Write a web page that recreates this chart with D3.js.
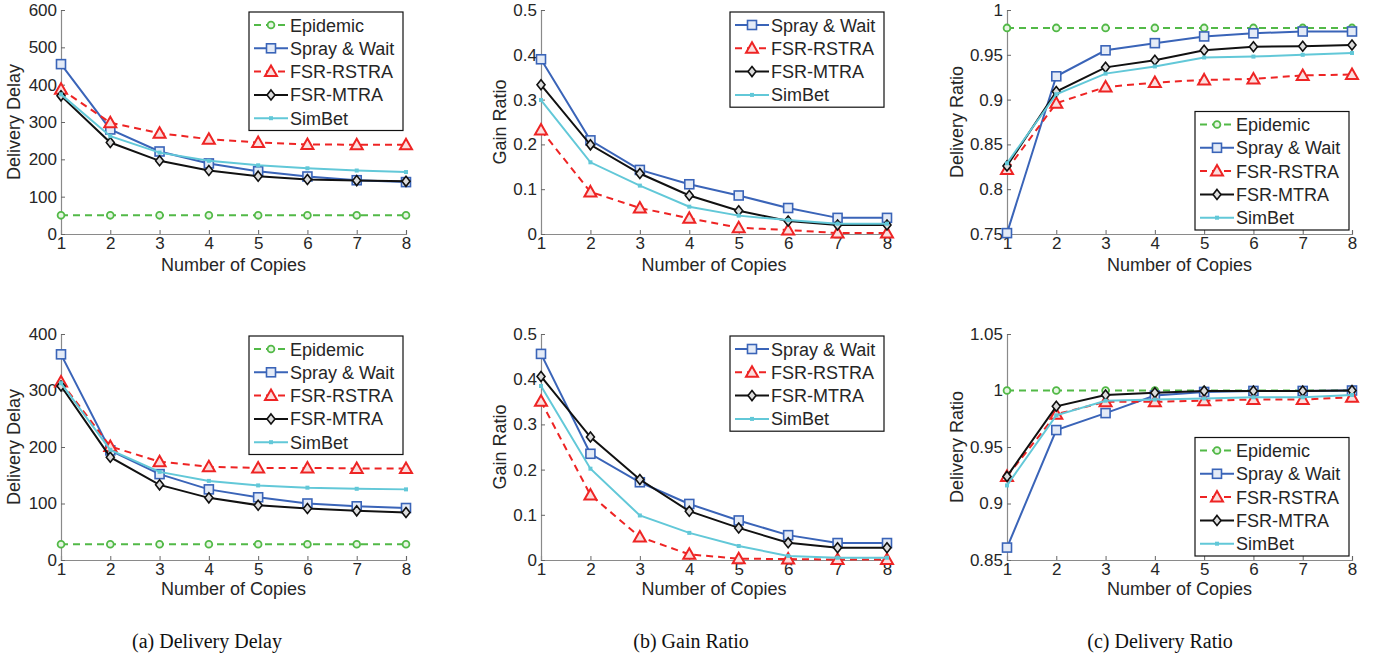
<!DOCTYPE html>
<html>
<head>
<meta charset="utf-8">
<script src="https://d3js.org/d3.v7.min.js"></script>
<style>
  body { margin: 0; background: #fff; }
  text { font-family: "Liberation Sans", Arial, sans-serif; fill: #262626; }
  .caption { font-family: "Liberation Serif", "Times New Roman", serif; fill: #111; }
</style>
</head>
<body>
<svg id="fig" width="1382" height="661"></svg>
<script>
// ---- data ----
const copies = [1, 2, 3, 4, 5, 6, 7, 8];
const seriesNames = ["Epidemic", "Spray & Wait", "FSR-RSTRA", "FSR-MTRA", "SimBet"];

// (a) delivery delay, top scenario
const delayTopEpidemic = [50, 50, 50, 50, 50, 50, 50, 50];
const delayTopSpray    = [455, 280, 221, 189, 168, 154, 144, 139];
const delayTopRstra    = [388, 298, 270, 254, 245, 240, 239, 239];
const delayTopMtra     = [370, 245, 196, 170, 155, 146, 143, 141];
const delayTopSimbet   = [374, 262, 218, 196, 184, 176, 170, 166];

// (b) gain ratio, top scenario
const gainTopSpray  = [0.390, 0.209, 0.143, 0.111, 0.086, 0.058, 0.036, 0.036];
const gainTopRstra  = [0.232, 0.094, 0.058, 0.035, 0.014, 0.009, 0.002, 0.002];
const gainTopMtra   = [0.333, 0.199, 0.135, 0.086, 0.052, 0.029, 0.020, 0.020];
const gainTopSimbet = [0.299, 0.160, 0.108, 0.061, 0.041, 0.031, 0.023, 0.023];

// (c) delivery ratio, top scenario
const ratioTopEpidemic = [0.980, 0.980, 0.980, 0.980, 0.980, 0.980, 0.980, 0.980];
const ratioTopSpray    = [0.751, 0.926, 0.955, 0.963, 0.9705, 0.974, 0.976, 0.976];
const ratioTopRstra    = [0.822, 0.896, 0.914, 0.919, 0.922, 0.923, 0.927, 0.928];
const ratioTopMtra     = [0.826, 0.909, 0.936, 0.944, 0.955, 0.959, 0.9595, 0.961];
const ratioTopSimbet   = [0.829, 0.906, 0.929, 0.937, 0.947, 0.948, 0.950, 0.952];

// (a) delivery delay, bottom scenario
const delayBotEpidemic = [28, 28, 28, 28, 28, 28, 28, 28];
const delayBotSpray    = [364, 194, 152, 125, 111, 100, 95, 92];
const delayBotRstra    = [315, 201, 174, 165, 163, 163, 162, 162];
const delayBotMtra     = [308, 182, 133, 110, 97, 91, 87, 84];
const delayBotSimbet   = [313, 195, 156, 140, 132, 128, 126, 125];

// (b) gain ratio, bottom scenario
const gainBotSpray  = [0.456, 0.235, 0.172, 0.124, 0.0875, 0.055, 0.0375, 0.0375];
const gainBotRstra  = [0.351, 0.144, 0.051, 0.0125, 0.003, 0.002, 0.001, 0.001];
const gainBotMtra   = [0.406, 0.272, 0.178, 0.108, 0.071, 0.038, 0.027, 0.027];
const gainBotSimbet = [0.385, 0.202, 0.0985, 0.060, 0.031, 0.009, 0.005, 0.005];

// (c) delivery ratio, bottom scenario
const ratioBotEpidemic = [1, 1, 1, 1, 1, 1, 1, 1];
const ratioBotSpray    = [0.861, 0.965, 0.980, 0.9955, 0.9987, 0.9996, 0.9996, 1.0];
const ratioBotRstra    = [0.924, 0.979, 0.990, 0.990, 0.991, 0.992, 0.992, 0.994];
const ratioBotMtra     = [0.924, 0.986, 0.996, 0.998, 0.9996, 0.9996, 0.9996, 1.0];
const ratioBotSimbet   = [0.916, 0.978, 0.991, 0.992, 0.993, 0.994, 0.994, 0.996];

const delayTopTicks = [0, 100, 200, 300, 400, 500, 600];
const delayBotTicks = [0, 100, 200, 300, 400];
const gainTicks = [0, 0.1, 0.2, 0.3, 0.4, 0.5];
const ratioTopTicks = [0.75, 0.8, 0.85, 0.9, 0.95, 1];
const ratioBotTicks = [0.85, 0.9, 0.95, 1, 1.05];

const captions = ["(a)  Delivery Delay", "(b)  Gain Ratio", "(c)  Delivery Ratio"];

// ---- styling per series ----
const style = {
  "Epidemic":     {color: "#52b947", dash: "7,5", marker: "circle"},
  "Spray & Wait": {color: "#3a64b8", dash: null,  marker: "square"},
  "FSR-RSTRA":    {color: "#ee2424", dash: "7,5", marker: "triangle"},
  "FSR-MTRA":     {color: "#111111", dash: null,  marker: "diamond"},
  "SimBet":       {color: "#62c8d8", dash: null,  marker: "dot"}
};

const colX = [[61, 406], [541, 887], [1007, 1352]];
const rowY = [[10, 234], [334, 560]];
const captionX = [207, 691, 1160];

const panels = [
  {col: 0, row: 0, ylabel: "Delivery Delay", domain: [0, 600], ticks: delayTopTicks, legend: "top",
   series: [delayTopEpidemic, delayTopSpray, delayTopRstra, delayTopMtra, delayTopSimbet]},
  {col: 1, row: 0, ylabel: "Gain Ratio", domain: [0, 0.5], ticks: gainTicks, legend: "top",
   series: [null, gainTopSpray, gainTopRstra, gainTopMtra, gainTopSimbet]},
  {col: 2, row: 0, ylabel: "Delivery Ratio", domain: [0.75, 1], ticks: ratioTopTicks, legend: "bottom",
   series: [ratioTopEpidemic, ratioTopSpray, ratioTopRstra, ratioTopMtra, ratioTopSimbet]},
  {col: 0, row: 1, ylabel: "Delivery Delay", domain: [0, 400], ticks: delayBotTicks, legend: "top",
   series: [delayBotEpidemic, delayBotSpray, delayBotRstra, delayBotMtra, delayBotSimbet]},
  {col: 1, row: 1, ylabel: "Gain Ratio", domain: [0, 0.5], ticks: gainTicks, legend: "top",
   series: [null, gainBotSpray, gainBotRstra, gainBotMtra, gainBotSimbet]},
  {col: 2, row: 1, ylabel: "Delivery Ratio", domain: [0.85, 1.05], ticks: ratioBotTicks, legend: "bottom",
   series: [ratioBotEpidemic, ratioBotSpray, ratioBotRstra, ratioBotMtra, ratioBotSimbet]}
];

const svg = d3.select("svg#fig");

function drawMarker(g, type, x, y, color) {
  if (type == "circle") {
    g.append("circle").attr("cx", x).attr("cy", y).attr("r", 3.4)
      .attr("fill", "#e8f6e4").attr("stroke", color).attr("stroke-width", 1.8);
  } else if (type == "square") {
    g.append("rect").attr("x", x - 4.5).attr("y", y - 4.5).attr("width", 9).attr("height", 9)
      .attr("fill", "#e4ebf7").attr("stroke", color).attr("stroke-width", 1.6);
  } else if (type == "triangle") {
    g.append("path").attr("d", `M${x},${y - 6} L${x + 6},${y + 4.5} L${x - 6},${y + 4.5} Z`)
      .attr("fill", "#fbdede").attr("stroke", color).attr("stroke-width", 2);
  } else if (type == "diamond") {
    g.append("path").attr("d", `M${x},${y - 5} L${x + 4},${y} L${x},${y + 5} L${x - 4},${y} Z`)
      .attr("fill", "#dddddd").attr("stroke", color).attr("stroke-width", 1.6);
  } else {
    g.append("rect").attr("x", x - 2).attr("y", y - 2).attr("width", 4).attr("height", 4)
      .attr("fill", color);
  }
}

panels.forEach(p => {
  const [x0, x1] = colX[p.col];
  const [y0, y1] = rowY[p.row];
  const xScale = d3.scaleLinear().domain([1, 8]).range([x0, x1]);
  const yScale = d3.scaleLinear().domain(p.domain).range([y1, y0]);
  const g = svg.append("g");

  // axes, ticks pointing inward like matlab
  const bottomAxis = d3.axisBottom(xScale).tickValues(copies).tickSize(-4).tickPadding(3).tickFormat(d3.format("d"));
  const leftAxis = d3.axisLeft(yScale).tickValues(p.ticks).tickSize(-4).tickPadding(4).tickFormat(d => +d.toFixed(2) + "");
  const bx = g.append("g").attr("transform", `translate(0,${y1})`).call(bottomAxis);
  const ly = g.append("g").attr("transform", `translate(${x0},0)`).call(leftAxis);
  [bx, ly].forEach(a => {
    a.selectAll(".domain").attr("stroke", "#8a8a8a").attr("stroke-width", 1.2);
    a.selectAll(".tick line").attr("stroke", "#666");
    a.selectAll(".tick text").style("font-size", "17px").attr("fill", "#262626")
      .style("font-family", "Liberation Sans, Arial, sans-serif");
  });

  g.append("text")
    .attr("x", (x0 + x1) / 2).attr("y", y1 + (p.row == 0 ? 37 : 35))
    .attr("text-anchor", "middle").style("font-size", "18px")
    .text("Number of Copies");
  g.append("text")
    .attr("transform", `translate(${x0 - (p.col == 1 ? 35 : (p.col == 2 ? 44 : 41))},${(y0 + y1) / 2}) rotate(-90)`)
    .attr("text-anchor", "middle").style("font-size", "18px")
    .text(p.ylabel);

  const line = d3.line().x((d, i) => xScale(copies[i])).y(d => yScale(d));
  p.series.forEach((vals, k) => {
    if (!vals) return;
    const s = style[seriesNames[k]];
    g.append("path").datum(vals).attr("d", line)
      .attr("fill", "none").attr("stroke", s.color).attr("stroke-width", 2)
      .attr("stroke-dasharray", s.dash);
    const mg = g.append("g");
    vals.forEach((v, i) => drawMarker(mg, s.marker, xScale(copies[i]), yScale(v), s.color));
  });

  // legend
  const names = seriesNames.filter((n, k) => p.series[k]);
  const lw = 154, rowH = 23.3;
  const lh = names.length * rowH + 2;
  const lx = x1 - 157;
  const ly0 = p.legend == "top" ? y0 + 2 : y1 - 4 - lh;
  const lg = g.append("g");
  lg.append("rect").attr("x", lx).attr("y", ly0).attr("width", lw).attr("height", lh)
    .attr("fill", "#fff").attr("stroke", "#111").attr("stroke-width", 1.2);
  names.forEach((n, i) => {
    const s = style[n];
    const cy = ly0 + 13 + i * rowH;
    lg.append("line").attr("x1", lx + 5).attr("x2", lx + 39).attr("y1", cy).attr("y2", cy)
      .attr("stroke", s.color).attr("stroke-width", 2).attr("stroke-dasharray", s.dash);
    drawMarker(lg, s.marker, lx + 22, cy, s.color);
    lg.append("text").attr("x", lx + 41).attr("y", cy + 6.5).style("font-size", "18px").text(n);
  });
});

captions.forEach((c, i) => {
  svg.append("text").attr("class", "caption")
    .attr("x", captionX[i]).attr("y", 648)
    .attr("text-anchor", "middle").style("font-size", "20px")
    .text(c);
});
</script>
</body>
</html>
